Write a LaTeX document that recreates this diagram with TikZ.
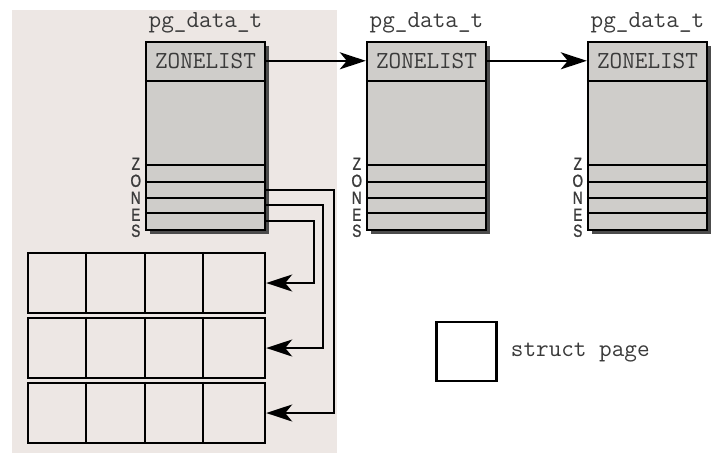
\documentclass[tikz,border=0pt]{standalone}
\usepackage{fontspec}
\newfontfamily\zonesfont[FakeStretch=0.78,FakeBold=1.2]{Liberation Sans}
\usetikzlibrary{arrows.meta,shadows,calc}
\definecolor{panel}{HTML}{EDE7E4}
\definecolor{boxfill}{HTML}{CFCDCA}
\definecolor{txt}{HTML}{3A3A3A}
\begin{document}
\begin{tikzpicture}[x=1pt,y=-1pt,
  pgbox/.style={draw=black,line width=2.4pt,fill=boxfill,minimum width=119pt,minimum height=188pt,inner sep=0pt,
    drop shadow={shadow xshift=4pt,shadow yshift=-4pt,fill=black!70,opacity=1}},
  inner/.style={line width=2.2pt},
  mono/.style={font=\ttfamily\fontsize{24.5}{26}\selectfont,text=txt,inner sep=0pt},
  zl/.style={font=\zonesfont\fontsize{17.5}{18}\selectfont,text=txt,inner sep=0pt},
  arr/.style={draw=black,line width=2.4pt,minimum width=237pt,minimum height=60pt,inner sep=0pt},
  conn/.style={line width=2pt,-{Stealth[length=26pt,width=17pt,inset=7pt]}},
]
\useasboundingbox[fill=white] (0,0) rectangle (720,467);
\fill[panel] (12,10) rectangle (337,453);
% three pg_data_t boxes
\foreach \n/\x in {b1/205.5,b2/426.5,b3/647.5}{
  \node[pgbox] (\n) at (\x,136) {};
  \foreach \o in {40,124,141,157,172}{
    \draw[inner] ($(\n.north west)+(0,\o)$) -- ($(\n.north east)+(0,\o)$);
  }
  \node[mono] at ($(\n.north)+(0,20)$) {ZONELIST};
  \node[mono] at ($(\n.north)+(0,-18)$) {pg\_data\_t};
  \foreach \l/\o in {Z/123,O/140,N/157,E/174,S/190}{
    \node[zl] at ($(\n.north west)+(-9,\o)$) {\l};
  }
}
% ZONELIST links
\draw[conn] ($(b1.north east)+(0,20)$) -- ($(b2.north west)+(0,20)$);
\draw[conn] ($(b2.north east)+(0,20)$) -- ($(b3.north west)+(0,20)$);
% page arrays
\foreach \n/\y in {a1/283,a2/348,a3/413}{
  \node[arr] (\n) at (146.5,\y) {};
  \foreach \c in {59,118,176}{
    \draw[line width=2.4pt] ($(\n.north west)+(\c,0)$) -- ($(\n.south west)+(\c,0)$);
  }
}
% zone connectors
\coordinate (z1) at ($(b1.north east)+(0,149)$);
\coordinate (z2) at ($(b1.north east)+(0,164.5)$);
\coordinate (z3) at ($(b1.north east)+(0,180)$);
\draw[conn] (z1) -- ++(68,0) |- (a3.east);
\draw[conn] (z2) -- ++(57,0) |- (a2.east);
\draw[conn] (z3) -- ++(48,0) |- (a1.east);
% legend
\node[draw=black,line width=2.4pt,fill=white,minimum width=60pt,minimum height=59pt,inner sep=0pt] (pg) at (466.5,351.5) {};
\node[mono,anchor=west] (pgl) at ($(pg.east)+(13,1)$) {struct page};
\end{tikzpicture}
\end{document}
